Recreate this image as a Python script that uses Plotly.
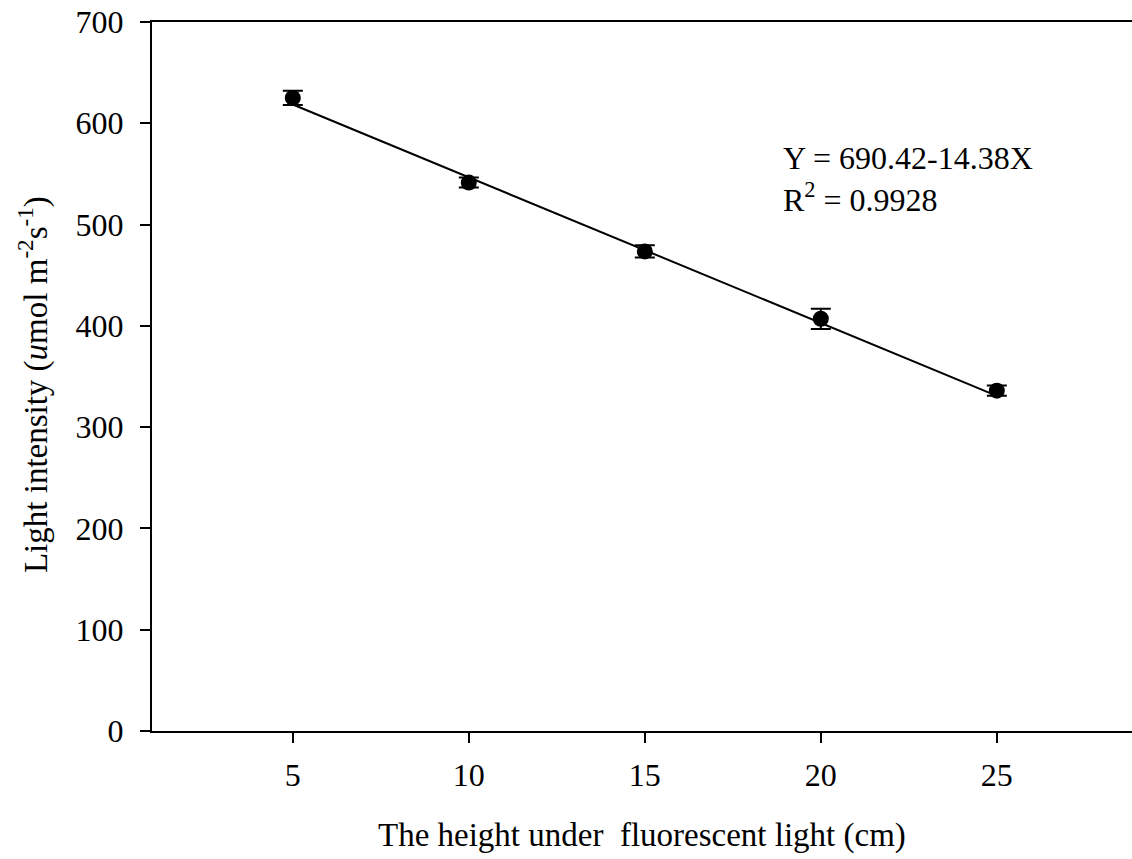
import plotly.graph_objects as go

# Data
heights = [5, 10, 15, 20, 25]
light = [625, 541.5, 473.5, 407, 336]
light_err = [7, 5, 6, 10, 5]

# Fitted regression (from the chart's equation)
intercept = 690.42
slope = -14.38
fit_x = [5, 25]
fit_y = [intercept + slope * x for x in fit_x]

x_ticks = [5, 10, 15, 20, 25]
y_ticks = [0, 100, 200, 300, 400, 500, 600, 700]

FONT = "Liberation Serif, Times New Roman, serif"

fig = go.Figure()
fig.add_trace(go.Scatter(
    x=fit_x, y=fit_y, mode="lines",
    line=dict(color="black", width=2), showlegend=False, hoverinfo="skip"))
fig.add_trace(go.Scatter(
    x=heights, y=light, mode="markers",
    marker=dict(color="black", size=16, symbol="circle"),
    error_y=dict(type="data", array=light_err, visible=True,
                 color="black", thickness=2, width=10),
    showlegend=False))

fig.update_layout(
    width=1132, height=859,
    margin=dict(l=152, r=0, t=22, b=128, pad=0),
    paper_bgcolor="white", plot_bgcolor="white",
    font=dict(family=FONT, color="black", size=32),
    xaxis=dict(range=[1, 28.84], tickvals=x_ticks, ticks="outside", ticklen=10,
               tickwidth=2, tickcolor="black", showline=True, linecolor="black",
               linewidth=2, mirror=True, showgrid=False, zeroline=False,
               tickfont=dict(family=FONT, size=32), ticklabelstandoff=5),
    yaxis=dict(range=[0, 700], tickvals=y_ticks, ticks="outside", ticklen=10,
               tickwidth=2, tickcolor="black", showline=True, linecolor="black",
               linewidth=2, showgrid=False, zeroline=False,
               tickfont=dict(family=FONT, size=32), ticklabelstandoff=10),
    annotations=[
        dict(text="The height under\u00a0 fluorescent light (cm)", xref="paper", yref="paper",
             x=0.5, y=-0.148, xanchor="center", yanchor="middle", showarrow=False,
             font=dict(family=FONT, size=33)),
        dict(text="Light intensity (<i>u</i>mol m<sup>-2</sup>s<sup>-1</sup>)",
             xref="paper", yref="paper", x=-0.1214, y=0.488, textangle=-90,
             xanchor="center", yanchor="middle", showarrow=False,
             font=dict(family=FONT, size=33)),
        dict(text="Y = 690.42-14.38X<br>R<sup>2</sup> = 0.9928", xref="paper", yref="paper",
             x=0.6418, y=0.836, xanchor="left", yanchor="top", align="left",
             showarrow=False, font=dict(family=FONT, size=32)),
    ],
)

fig.write_html("out.html")
